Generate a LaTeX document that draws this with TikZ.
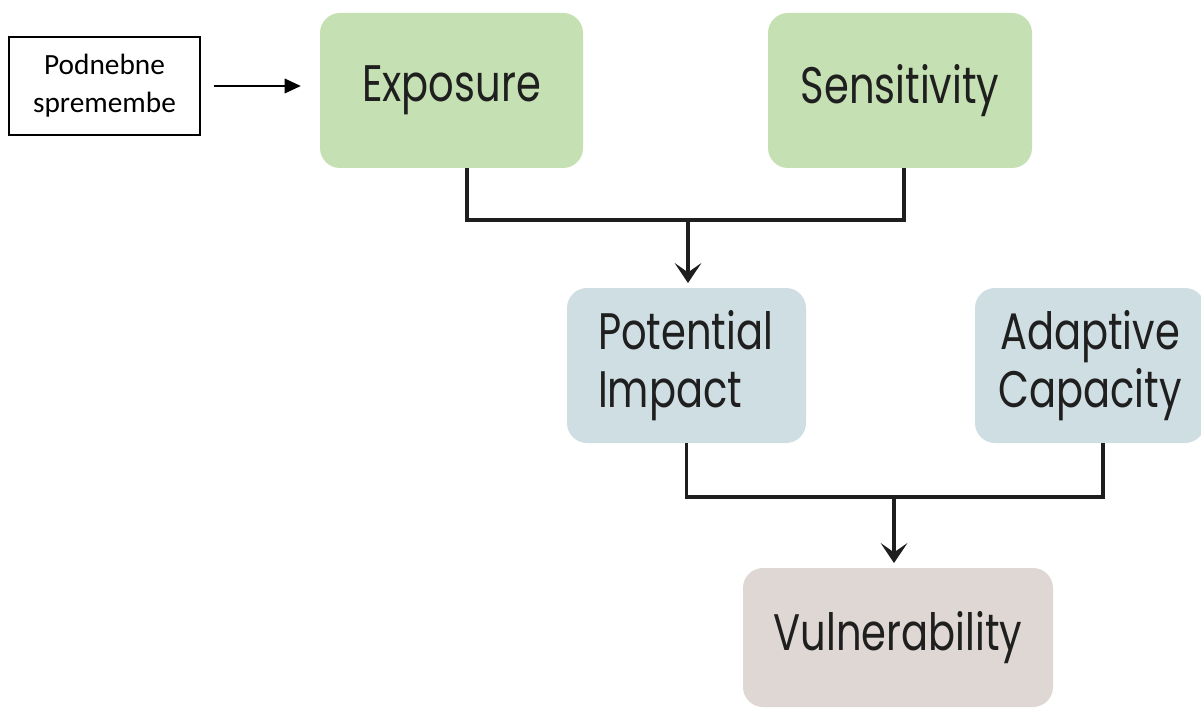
\documentclass[tikz,border=0pt]{standalone}
\usepackage{fontspec}
\setmainfont{Carlito}
\newfontfamily\boxfont{Poppins}[FakeStretch=0.78]
\usepackage{tikz}
\usetikzlibrary{positioning,arrows.meta}
\definecolor{expgreen}{RGB}{197,224,178}
\definecolor{impblue}{RGB}{207,222,227}
\definecolor{vulgrey}{RGB}{223,215,211}
\definecolor{linedark}{RGB}{30,30,30}

\begin{document}
\begin{tikzpicture}[x=0.75pt,y=-0.75pt,
  box/.style={rounded corners=15pt,inner sep=0pt,align=center,
              minimum height=116.25pt,text=black!88,
              font=\boxfont\fontsize{38.5}{43}\selectfont},
  link/.style={draw=linedark,line width=2.5pt},
  flow/.style={link,-{Stealth[length=15pt,width=20pt,inset=7pt]},shorten >=3.5pt}]
  \useasboundingbox (0,0) rectangle (1201,709);
  \clip (0,0) rectangle (1201,709);
  \fill[white] (0,0) rectangle (1201,709);

  \node[draw,line width=1.1pt,minimum width=143.25pt,minimum height=73.5pt,
        align=center,font=\fontsize{22}{28.5}\selectfont] (climate) at (104.5,86)
        {Podnebne\\spremembe};

  \node[box,fill=expgreen,minimum width=197.25pt] (expo) at (451.5,90.5) {Exposure};
  \node[box,fill=expgreen,minimum width=198pt] (sens) at (900,90.5) {Sensitivity};
  \node[box,fill=impblue,minimum width=179.25pt,text width=132.75pt,align=left]
        (pot) at (686.5,365.5) {Potential\\Impact};
  \node[box,fill=impblue,minimum width=172.5pt] (adapt) at (1090,365.5) {Adaptive\\Capacity};
  \node[box,fill=vulgrey,minimum width=232.5pt,minimum height=104.25pt]
        (vuln) at (898,637.5) {Vulnerability};

  \coordinate (j1) at (688,220);
  \coordinate (j2) at (894,497);

  \draw[-{Triangle[length=12pt,width=11pt]},line width=0.9pt,shorten <=9.75pt,shorten >=14.25pt]
        (climate.east) -- (climate.east -| expo.west);
  \draw[link] ([xshift=11.6pt]expo.south) |- (j1) -| ([xshift=3pt]sens.south);
  \draw[flow] (j1) -- (j1 |- pot.north);
  \draw[link] (pot.south) |- (j2) -| ([xshift=9.75pt]adapt.south);
  \draw[flow] (j2) -- (j2 |- vuln.north);
\end{tikzpicture}
\end{document}
